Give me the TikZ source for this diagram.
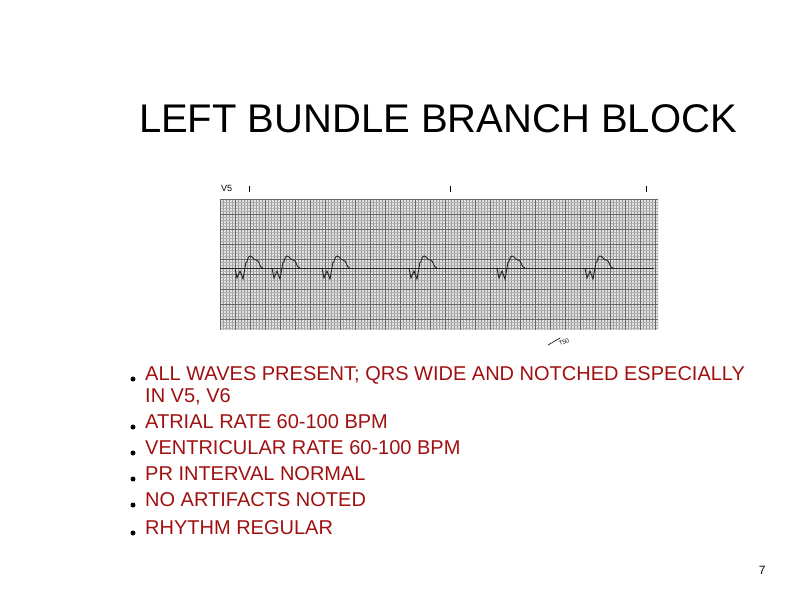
\documentclass[tikz,border=0pt]{standalone}
\usepackage{fontspec}
\setmainfont{Liberation Sans}
\definecolor{bul}{HTML}{A01010}
\begin{document}
\begin{tikzpicture}[x=1pt,y=-1pt,
  item/.style={anchor=base west,text=bul,font=\fontsize{20}{24}\selectfont,inner sep=0},
  dot/.style={circle,fill=black,inner sep=0,minimum size=5pt},
  ecg/.style={line width=0.9pt,black!85},
  qrs/.pic={\draw[ecg] (-8,0) -- (-6,10) -- (-3,3) -- (0,11) -- (3,-6) to[out=-60,in=180] (7,-12) to[out=0,in=180] (13,-8) to[out=0,in=180] (20,0);}]
\useasboundingbox (0,0) rectangle (794,595);
\node[anchor=base,font=\fontsize{40}{44}\selectfont] (title) at (438,132) {LEFT BUNDLE BRANCH BLOCK};
% ECG strip
\node[anchor=north west,inner sep=0,font=\fontsize{9}{9}\selectfont] (lead) at (221,185) {V5};
\fill[black!12] (220,199) rectangle (658,330);
\begin{scope}
\clip (220,199) rectangle (658,330);
\foreach \x in {220,223,...,660} \draw[black!40,line width=0.3pt] (\x,199) -- (\x,330);
\foreach \y in {199,202,...,330} \draw[black!30,line width=0.3pt] (220,\y) -- (658,\y);
\foreach \x in {220,235,...,660} \draw[black!60,line width=0.7pt] (\x,199) -- (\x,330);
\foreach \y in {199,214,...,330} \draw[black!60,line width=0.7pt] (220,\y) -- (658,\y);
\end{scope}
\draw[line width=0.8pt] (249,186) -- (249,192) (450,186) -- (450,192) (646,186) -- (646,192);
\draw[line width=0.6pt] (548,345) -- (560,338) (564,342) node[font=\fontsize{6}{6}\selectfont,rotate=20] {T50};
\draw[ecg] (220,268) -- (654,268);
\foreach \x in {243,280,330,417,505,593} \pic at (\x,268) {qrs};
% bullets
\foreach \y/\t [count=\i] in {380/{ALL WAVES PRESENT; QRS WIDE AND NOTCHED ESPECIALLY},
  428/{ATRIAL RATE 60-100 BPM},454/{VENTRICULAR RATE 60-100 BPM},
  480/{PR INTERVAL NORMAL},506/{NO ARTIFACTS NOTED},534/{RHYTHM REGULAR}}{
  \node[dot] (d\i) at (133,\y-1) {};
  \node[item] (t\i) at (145,\y) {\t};}
\node[item] (t1b) at (145,402) {IN V5, V6};
\node[anchor=base east,font=\fontsize{12}{12}\selectfont] (pg) at (769,574) {7};
\end{tikzpicture}
\end{document}
